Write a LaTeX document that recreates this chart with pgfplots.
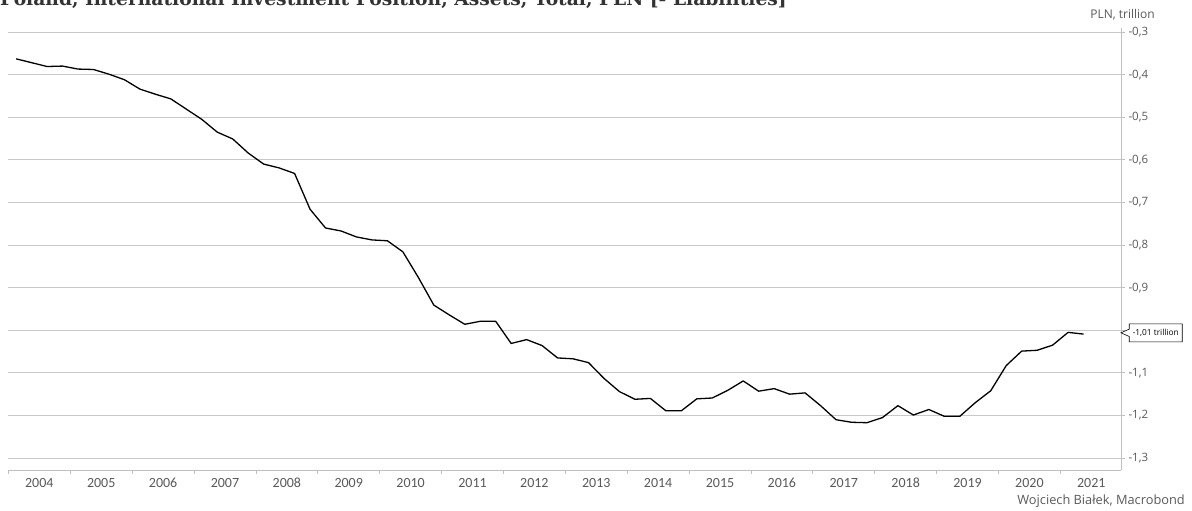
\documentclass[border=0pt]{standalone}
\usepackage{fontspec}
\setmainfont{Open Sans}
\newfontfamily\carlito{Carlito}
\newfontfamily\titlefont{DejaVu Serif}
\usepackage{pgfplots}
\pgfplotsset{compat=1.18}
\usetikzlibrary{shapes.callouts}
\definecolor{gridc}{HTML}{C8C8C8}
\definecolor{axc}{HTML}{BFBFBF}
\definecolor{txtc}{HTML}{595959}

\pgfplotstableread{
x y
2004.125 -0.363
2004.375 -0.372
2004.625 -0.381
2004.875 -0.380
2005.125 -0.387
2005.375 -0.388
2005.625 -0.399
2005.875 -0.412
2006.125 -0.434
2006.375 -0.446
2006.625 -0.457
2006.875 -0.481
2007.125 -0.505
2007.375 -0.535
2007.625 -0.551
2007.875 -0.584
2008.125 -0.610
2008.375 -0.619
2008.625 -0.632
2008.875 -0.716
2009.125 -0.760
2009.375 -0.767
2009.625 -0.781
2009.875 -0.788
2010.125 -0.790
2010.375 -0.816
2010.625 -0.876
2010.875 -0.941
2011.125 -0.964
2011.375 -0.986
2011.625 -0.979
2011.875 -0.979
2012.125 -1.031
2012.375 -1.022
2012.625 -1.036
2012.875 -1.065
2013.125 -1.067
2013.375 -1.076
2013.625 -1.113
2013.875 -1.144
2014.125 -1.162
2014.375 -1.160
2014.625 -1.189
2014.875 -1.189
2015.125 -1.161
2015.375 -1.159
2015.625 -1.141
2015.875 -1.119
2016.125 -1.143
2016.375 -1.137
2016.625 -1.150
2016.875 -1.147
2017.125 -1.177
2017.375 -1.210
2017.625 -1.216
2017.875 -1.217
2018.125 -1.205
2018.375 -1.177
2018.625 -1.199
2018.875 -1.186
2019.125 -1.202
2019.375 -1.202
2019.625 -1.170
2019.875 -1.142
2020.125 -1.083
2020.375 -1.049
2020.625 -1.047
2020.875 -1.035
2021.125 -1.005
2021.375 -1.009
}\iipdata

\begin{document}
\begin{tikzpicture}[x=1pt,y=1pt]
\useasboundingbox (0,0) rectangle (1192,511);
\node[anchor=base west, inner sep=0, font=\titlefont\bfseries\fontsize{18.7}{19}\selectfont, text=black!80] at (0,505.3) {Poland, International Investment Position, Assets, Total, PLN [- Liabilities]};
\begin{axis}[
  at={(8.4pt,41pt)}, anchor=south west,
  scale only axis, width=1112.6pt, height=442pt,
  xmin=2004, xmax=2021.98, ymin=-1.328, ymax=-0.2906,
  axis x line*=bottom, axis y line*=right,
  axis line style={axc, line width=0.8pt},
  tick align=outside,
  major tick length=4pt, minor tick length=4pt,
  xtick={2004.5,2005.5,2006.5,2007.5,2008.5,2009.5,2010.5,2011.5,2012.5,2013.5,2014.5,2015.5,2016.5,2017.5,2018.5,2019.5,2020.5,2021.5},
  xticklabels={2004,2005,2006,2007,2008,2009,2010,2011,2012,2013,2014,2015,2016,2017,2018,2019,2020,2021},
  minor xtick={2004,2005,...,2021},
  major x tick style={draw=none},
  minor x tick style={axc, line width=0.8pt},
  ytick={-1.3,-1.2,-1.1,-1.0,-0.9,-0.8,-0.7,-0.6,-0.5,-0.4,-0.3},
  yticklabels={{-1,3},{-1,2},{-1,1},{},{-0,9},{-0,8},{-0,7},{-0,6},{-0,5},{-0,4},{-0,3}},
  y tick style={axc, line width=0.8pt},
  ymajorgrids, major grid style={gridc, line width=0.8pt},
  yticklabel style={font=\fontsize{11.5}{13}\selectfont, text=txtc},
  xticklabel style={font=\carlito\fontsize{14}{15}\selectfont, text=txtc, text height=9.5pt, text depth=0pt},
  clip=false,
]
\addplot[black, line width=1.3pt, line join=round] table[x=x,y=y] {\iipdata};
\coordinate (tip) at (axis cs:2021.98,-1.006);
\end{axis}
\node[rectangle callout, draw=black, line width=0.6pt, fill=white, anchor=west,
      callout absolute pointer={(tip)}, callout pointer width=7.4pt,
      minimum height=18pt, inner xsep=3.5pt, font=\fontsize{8.3}{9}\selectfont]
      at ([xshift=8pt]tip) {-1,01 trillion};
\node[anchor=base east, inner sep=0, font=\fontsize{12}{13}\selectfont, text=txtc] at (1155,492.7) {PLN, trillion};
\node[anchor=base east, inner sep=0, font=\fontsize{12.8}{14}\selectfont, text=txtc] at (1185,6) {Wojciech Białek, Macrobond};
\end{tikzpicture}
\end{document}
